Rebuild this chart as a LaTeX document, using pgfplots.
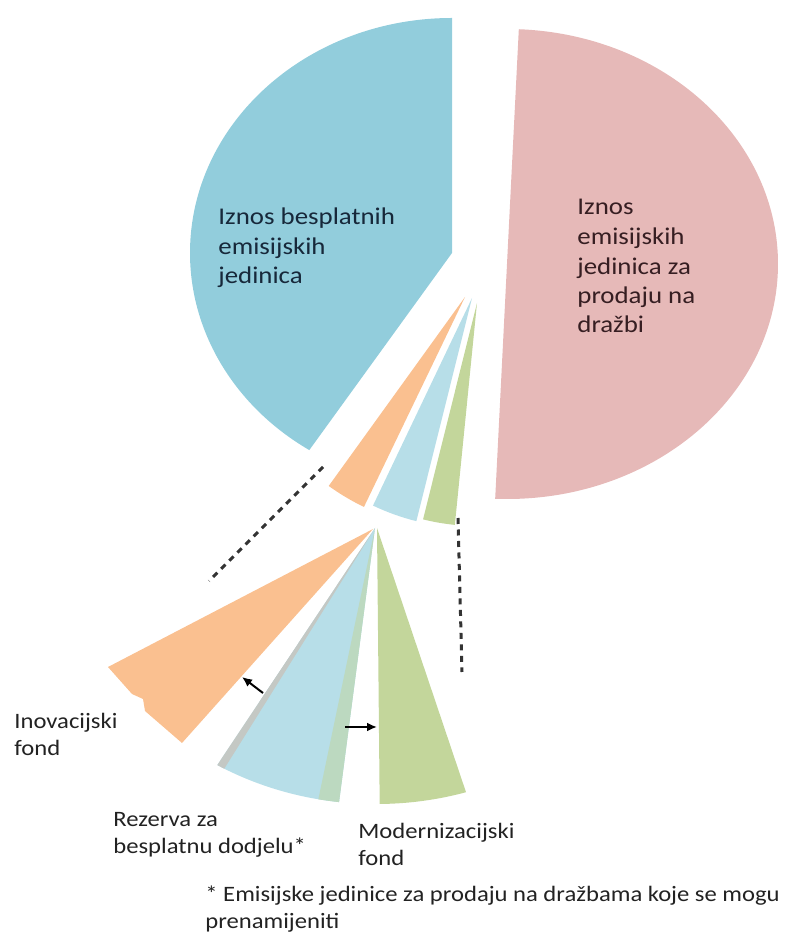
\documentclass[border=0pt]{standalone}
\usepackage{pgfplots}
\pgfplotsset{compat=1.18}
\usepackage{fontspec}
\setmainfont{Carlito}[FakeStretch=1.12]
\usetikzlibrary{arrows.meta}

\definecolor{bigblue}{HTML}{92CDDC}
\definecolor{bigpink}{HTML}{E6B9B8}
\definecolor{orng}{HTML}{FAC090}
\definecolor{ltblue}{HTML}{B7DEE8}
\definecolor{ltgreen}{HTML}{C3D69B}
\definecolor{stripgrey}{HTML}{C4C8C4}
\definecolor{stripgreen}{HTML}{BCD9C0}
\definecolor{dashc}{HTML}{333333}
\definecolor{txt}{HTML}{222222}
\definecolor{txtblue}{HTML}{17283A}
\definecolor{txtpink}{HTML}{361E22}

\tikzset{
  lbl/.style={anchor=base west, inner sep=0pt, font=\fontsize{11pt}{13pt}\selectfont, text=txt},
  big/.style={lbl, font=\fontsize{12pt}{14pt}\selectfont},
}

% one image pixel = 0.5pt
% slice: cx, cy, rx, ry, start angle, end angle, colour
\newcommand{\slice}[7]{%
  \fill[#7] (axis cs:#1,#2) -- ++(#5:#3*0.5pt and #4*0.5pt)
    arc[start angle=#5, end angle=#6, x radius=#3*0.5pt, y radius=#4*0.5pt] -- cycle;}

\begin{document}
\begin{tikzpicture}
\begin{axis}[
    hide axis,
    x=0.5pt, y=0.5pt,
    xmin=0, xmax=787, ymin=0, ymax=938,
    clip=false,
]
\addplot[draw=none] coordinates {(0,0) (787,938)};

% main pie
\slice{452}{685}{262}{235}{90}{237}{bigblue}
\slice{507}{674}{271}{235}{87.5}{-92.5}{bigpink}
\slice{465}{641}{233}{233}{234.2}{244.3}{orng}
\slice{472}{640}{230}{230}{244.5}{256}{ltblue}
\slice{477}{635}{223}{223}{256}{264.3}{ltgreen}

% exploded part
\addplot[fill=orng, draw=none] coordinates {
    (373,409) (108,271) (132,244) (143,239) (145,227) (182,195)
} -- cycle;
\slice{375}{410}{308}{276}{239.2}{263.3}{ltblue}
\slice{375}{410}{308}{276}{239.2}{240.7}{stripgrey}
\slice{375}{410}{308}{276}{259.4}{263.3}{stripgreen}
\slice{377}{410}{308}{276}{270.5}{286.8}{ltgreen}

% guide lines
\addplot[draw=dashc, line width=1.5pt, dash pattern=on 3pt off 2.75pt]
    coordinates {(323,471) (209,357)};
\addplot[draw=dashc, line width=1.5pt, dash pattern=on 3pt off 2.75pt]
    coordinates {(458,420) (462,266)};

% arrows
\addplot[black, line width=1pt, -{Latex[length=5pt, width=4.5pt]}]
    coordinates {(263,245) (242,261)};
\addplot[black, line width=1pt, -{Latex[length=5pt, width=4.5pt]}]
    coordinates {(345,211) (377,211)};

% labels
\node[big, text=txtblue] at (axis cs:218,713) {Iznos besplatnih};
\node[big, text=txtblue] at (axis cs:218,683) {emisijskih};
\node[big, text=txtblue] at (axis cs:218,654) {jedinica};

\node[big, text=txtpink] at (axis cs:577,723) {Iznos};
\node[big, text=txtpink] at (axis cs:577,693) {emisijskih};
\node[big, text=txtpink] at (axis cs:577,663) {jedinica za};
\node[big, text=txtpink] at (axis cs:577,634) {prodaju na};
\node[big, text=txtpink] at (axis cs:577,605) {dražbi};

\node[lbl] at (axis cs:14,209) {Inovacijski};
\node[lbl] at (axis cs:14,182) {fond};

\node[lbl] at (axis cs:113,112) {Rezerva za};
\node[lbl] at (axis cs:113,84) {besplatnu dodjelu*};

\node[lbl] at (axis cs:358,99) {Modernizacijski};
\node[lbl] at (axis cs:358,72) {fond};

\node[lbl] at (axis cs:205,36) {* Emisijske jedinice za prodaju na dražbama koje se mogu};
\node[lbl] at (axis cs:205,10) {prenamijeniti};
\end{axis}
\end{tikzpicture}
\end{document}
